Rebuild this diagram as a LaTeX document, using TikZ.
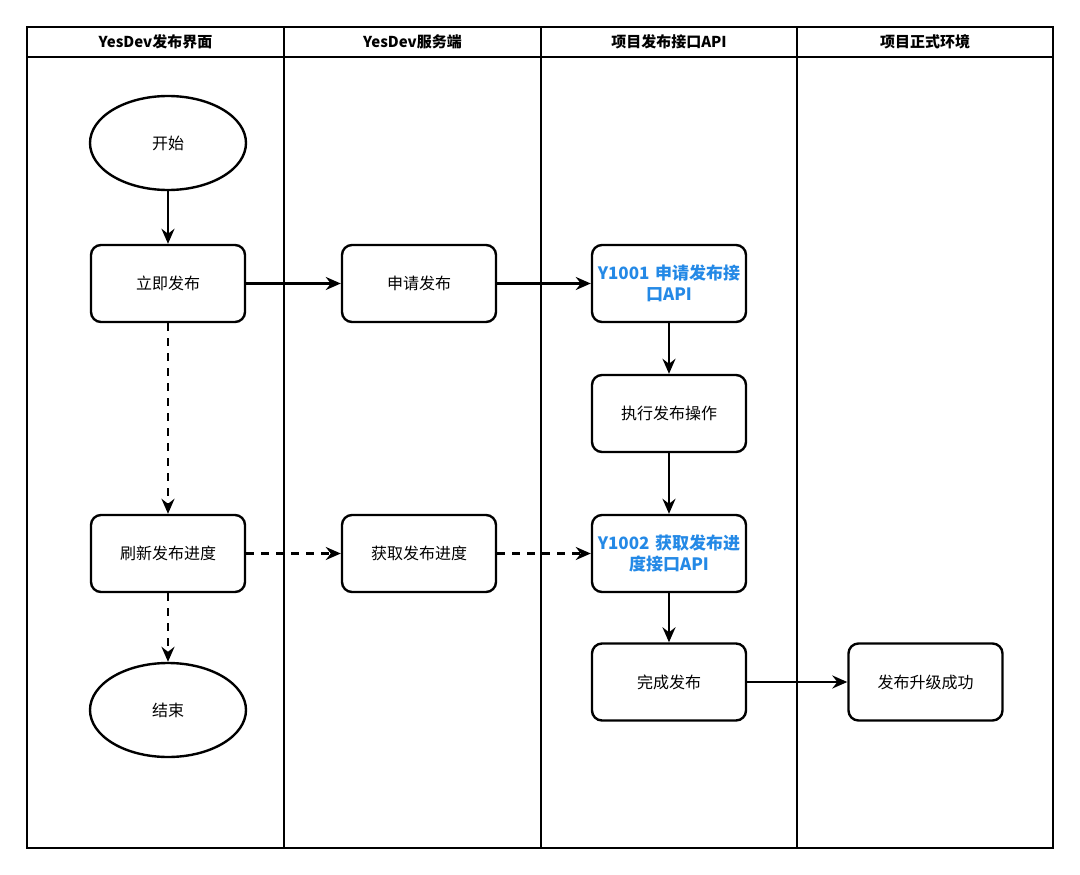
\documentclass[tikz,border=0pt]{standalone}
\usepackage{fontspec}
\setmainfont{Noto Sans CJK SC}
\usetikzlibrary{arrows.meta,shapes.geometric}
\definecolor{apiblue}{HTML}{2489E6}
\begin{document}
\begin{tikzpicture}[x=1pt,y=-1pt,
  lane/.style={draw=black,line width=2.4pt},
  box/.style={draw=black,line width=2.4pt,rounded corners=10pt,minimum width=154pt,minimum height=77pt,align=center,font=\fontsize{16}{20}\selectfont,inner sep=2pt},
  oval/.style={draw=black,line width=2.4pt,ellipse,minimum width=156pt,minimum height=94pt,font=\fontsize{16}{20}\selectfont},
  api/.style={box,text=apiblue,font=\fontsize{17}{21}\selectfont\bfseries,text width=150pt},
  hdr/.style={font=\fontsize{15}{18}\selectfont\bfseries},
  arr/.style={line width=2.4pt,-{Stealth[length=15pt,width=13pt,inset=5pt]}},
  darr/.style={arr,dash pattern=on 8pt off 7pt}]
\useasboundingbox (0,0) rectangle (1080,875);
\fill[white] (0,0) rectangle (1080,875);
% lanes
\draw[lane] (27,27) rectangle (1053,848);
\draw[lane] (27,57) -- (1053,57);
\draw[lane] (284,27) -- (284,848);
\draw[lane] (541,27) -- (541,848);
\draw[lane] (797,27) -- (797,848);
\node[hdr] (h1) at (155.5,42) {YesDev发布界面};
\node[hdr] (h2) at (412.5,42) {YesDev服务端};
\node[hdr] (h3) at (669,42) {项目发布接口API};
\node[hdr] (h4) at (925,42) {项目正式环境};
% nodes
\node[oval] (start) at (168,143) {开始};
\node[box] (pub) at (168,283.5) {立即发布};
\node[box] (apply) at (419,283.5) {申请发布};
\node[api] (y1) at (669,283.5) {Y1001 申请发布接\\口API};
\node[box] (exec) at (669,413.5) {执行发布操作};
\node[box] (refresh) at (168,553.5) {刷新发布进度};
\node[box] (get) at (419,553.5) {获取发布进度};
\node[api] (y2) at (669,553.5) {Y1002 获取发布进\\度接口API};
\node[box] (done) at (669,682) {完成发布};
\node[box] (ok) at (925.5,682) {发布升级成功};
\node[oval] (end) at (168,710) {结束};
% connectors
\draw[arr] (start) -- (pub);
\draw[arr] (pub) -- (apply);
\draw[arr] (apply) -- (y1);
\draw[arr] (y1) -- (exec);
\draw[arr] (exec) -- (y2);
\draw[arr] (y2) -- (done);
\draw[arr] (done) -- (ok);
\draw[darr] (pub) -- (refresh);
\draw[darr] (refresh) -- (end);
\draw[darr] (refresh) -- (get);
\draw[darr] (get) -- (y2);
\end{tikzpicture}
\end{document}
